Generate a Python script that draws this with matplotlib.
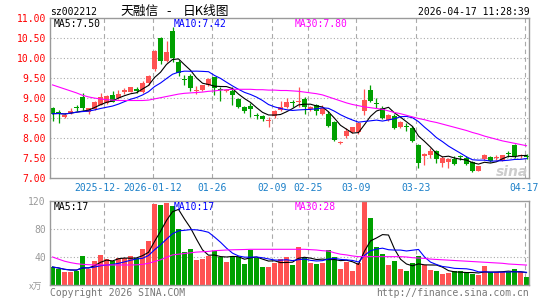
import matplotlib
matplotlib.use("Agg")
import matplotlib.pyplot as plt
import numpy as np
import pandas as pd

# ---------------- data ----------------
opens = [8.75, 8.63, 8.52, 8.62, 8.76, 9.02, 8.65, 8.71, 8.83, 8.87,
         9.08, 8.98, 9.15, 9.15, 9.22, 9.15, 9.37, 9.71, 10.50, 9.93,
         10.67, 9.89, 9.47, 9.54, 9.17, 9.20, 9.33, 9.51, 9.21, 9.17,
         9.17, 8.98, 8.78, 8.79, 8.56, 8.54, 8.42, 8.55, 8.69, 8.78,
         8.89, 8.88, 8.96, 8.71, 8.83, 8.60, 8.60, 8.40, 7.88, 8.04,
         8.15, 8.13, 8.68, 9.20, 8.86, 8.75, 8.44, 8.54, 8.27, 8.28,
         8.25, 7.83, 7.54, 7.58, 7.68, 7.38, 7.40, 7.46, 7.55, 7.50,
         7.40, 7.18, 7.46, 7.52, 7.49, 7.43, 7.61, 7.82, 7.54, 7.55]
highs = [8.77, 8.70, 8.62, 8.75, 8.83, 9.12, 8.75, 8.93, 9.12, 9.06,
         9.18, 9.19, 9.25, 9.28, 9.27, 9.42, 9.56, 10.20, 10.52, 10.43,
         10.78, 9.94, 9.58, 9.60, 9.30, 9.33, 9.48, 9.53, 9.28, 9.22,
         9.28, 8.99, 8.79, 8.87, 8.62, 8.56, 8.52, 8.69, 8.93, 9.00,
         8.95, 9.27, 9.02, 8.80, 8.85, 8.81, 8.66, 8.42, 7.93, 8.23,
         8.28, 8.38, 9.21, 9.33, 8.99, 8.79, 8.60, 8.60, 8.43, 8.37,
         8.29, 7.84, 7.62, 7.73, 7.70, 7.54, 7.49, 7.54, 7.58, 7.54,
         7.42, 7.30, 7.59, 7.54, 7.56, 7.57, 7.68, 7.85, 7.60, 7.60]
lows = [8.42, 8.37, 8.48, 8.60, 8.68, 8.70, 8.60, 8.70, 8.81, 8.85,
        8.88, 8.96, 9.10, 9.13, 9.12, 9.12, 9.33, 9.67, 9.85, 9.88,
        9.88, 9.54, 9.33, 9.17, 9.10, 9.17, 9.30, 9.08, 8.91, 9.15,
        8.83, 8.73, 8.62, 8.52, 8.47, 8.42, 8.27, 8.49, 8.66, 8.75,
        8.78, 8.78, 8.60, 8.68, 8.57, 8.56, 8.28, 7.92, 7.84, 7.98,
        8.12, 8.10, 8.57, 8.90, 8.75, 8.46, 8.42, 8.21, 8.24, 8.18,
        7.90, 7.25, 7.33, 7.50, 7.38, 7.26, 7.25, 7.32, 7.44, 7.32,
        7.15, 7.17, 7.45, 7.40, 7.44, 7.41, 7.52, 7.49, 7.49, 7.46]
closes = [8.60, 8.61, 8.57, 8.67, 8.74, 8.73, 8.73, 8.90, 9.02, 9.04,
          8.90, 9.10, 9.19, 9.26, 9.17, 9.37, 9.54, 10.18, 9.92, 10.15,
          9.98, 9.62, 9.45, 9.23, 9.20, 9.31, 9.46, 9.24, 9.19, 9.19,
          9.06, 8.77, 8.68, 8.71, 8.54, 8.47, 8.44, 8.67, 8.78, 8.88,
          8.87, 8.90, 8.76, 8.78, 8.66, 8.74, 8.30, 7.95, 7.90, 8.17,
          8.26, 8.36, 8.95, 8.93, 8.84, 8.50, 8.58, 8.25, 8.40, 8.26,
          7.92, 7.38, 7.58, 7.68, 7.46, 7.50, 7.47, 7.35, 7.53, 7.35,
          7.18, 7.29, 7.58, 7.43, 7.51, 7.56, 7.59, 7.54, 7.56, 7.53]
volumes = [25.7, 23, 18.6, 18.6, 20.5, 41.4, 23, 34, 43, 36.7,
           35, 39, 39, 41.4, 39, 51, 63, 116, 114, 117,
           113, 80, 47, 51, 36, 37, 42, 48, 40, 33,
           41, 40, 30, 50, 39, 26, 26, 32, 37, 40,
           28, 54, 39, 31, 30, 31, 50, 40, 23, 33,
           20, 31, 135, 96, 54, 44, 28, 35, 23, 20,
           31, 42, 28, 22, 19.5, 16, 17, 19.5, 19.5, 17,
           16, 14, 27, 18, 18, 18, 18, 23, 18, 11.5]
ma30_price = [9.32, 9.27, 9.22, 9.17, 9.12, 9.06, 9.02, 8.99, 8.97, 8.95,
              8.94, 8.93, 8.93, 8.93, 8.93, 8.93, 8.94, 8.97, 9.00, 9.03,
              9.06, 9.09, 9.11, 9.12, 9.13, 9.14, 9.16, 9.17, 9.19, 9.20,
              9.21, 9.21, 9.21, 9.21, 9.20, 9.20, 9.19, 9.19, 9.18, 9.18,
              9.17, 9.16, 9.14, 9.12, 9.10, 9.07, 9.02, 8.97, 8.92, 8.87,
              8.83, 8.80, 8.77, 8.75, 8.73, 8.71, 8.67, 8.63, 8.60, 8.56,
              8.52, 8.48, 8.45, 8.41, 8.38, 8.34, 8.30, 8.26, 8.22, 8.18,
              8.13, 8.09, 8.04, 8.00, 7.96, 7.92, 7.89, 7.86, 7.83, 7.80]
ma30_vol = [40, 37, 34, 32, 30.5, 29.5, 29, 28.6, 28.6, 28.6,
            28.6, 28.6, 28.6, 28.6, 28.8, 29.5, 31, 33.5, 36, 39.5,
            43, 44, 45, 46, 47, 47.5, 48, 49, 49.5, 50,
            50.3, 50.5, 50.7, 51, 51, 51, 51, 51, 51, 51,
            51, 51, 51, 50.5, 50, 49, 48.5, 46, 44, 43,
            41.5, 40.5, 40.5, 40.5, 40.5, 40.5, 40.5, 40.5, 40.5, 40,
            39, 38.5, 38, 37, 36.5, 36, 35.5, 35, 34.5, 34,
            33.5, 33, 32.5, 32, 31.5, 31, 30, 29.5, 29, 28.5]
tick_index = [9, 17, 27, 37, 43, 51, 61, 79]
tick_labels = ["2025-12-", "2026-01-12", "01-26", "02-09", "02-25",
               "03-09", "03-23", "04-17"]
price_ticks = [7.0, 7.5, 8.0, 8.5, 9.0, 9.5, 10.0, 10.5, 11.0]
vol_ticks = [40, 80, 120]
code = "sz002212"
name = "天融信"
title_kind = "日K线图"
timestamp = "2026-04-17 11:28:39"
ma_labels = ["MA5:7.50", "MA10:7.42", "MA30:7.80"]
vol_ma_labels = ["MA5:17", "MA10:17", "MA30:28"]

# ---------------- style ----------------
W, H = 545, 300
RED = "#ff5252"
GREEN = "#00a000"
GRID = "#aaaaaa"
FRAME = "#9a9a9a"
BLUE_TXT = "#1a7fc8"
MONO = "DejaVu Sans Mono"
FS = 7.0

fig = plt.figure(figsize=(W / 100, H / 100), dpi=100)
fig.patch.set_facecolor("white")


def fx(x):
    return x / W


def fy(y):
    return 1 - y / H


n = len(closes)
xs = np.arange(n)
xl = (-2.5 / 6, (n - 1) + 2.5 / 6)
grid_x = [i - 1 / 3 for i in tick_index]

ax = fig.add_axes([fx(50), (H - 177.7) / H, 479 / W, 160 / H])
axv = fig.add_axes([fx(50), 15 / H, 479 / W, 84 / H])

for a in (ax, axv):
    a.set_xlim(*xl)
    for s in a.spines.values():
        s.set_color(FRAME)
        s.set_linewidth(1.0)
    a.tick_params(length=0)
    for gx in grid_x:
        a.axvline(gx, color=GRID, lw=0.8, ls=(0, (4, 3)), zorder=0.6)

# price panel
ax.set_ylim(7.0, 11.0)
for lv in price_ticks[1:-1]:
    ax.axhline(lv, color=GRID, lw=0.8, ls=(0, (1, 2)), zorder=0.6)
ax.set_yticks(price_ticks)
ax.set_yticklabels(["%.2f" % v for v in price_ticks], color="red",
                   fontsize=FS, family=MONO)
ax.tick_params(axis="y", pad=3)
# date labels: the first one (truncated in the reference) drawn left-aligned
ax.set_xticks(grid_x[1:])
ax.set_xticklabels(tick_labels[1:], color=BLUE_TXT, fontsize=FS, family=MONO)
ax.tick_params(axis="x", pad=3.5)
ax.annotate(tick_labels[0], xy=(grid_x[0], 0), xycoords=("data", "axes fraction"),
            xytext=(-21.5, -3.5), textcoords="offset points", ha="left", va="top",
            color=BLUE_TXT, fontsize=FS, family=MONO, annotation_clip=False)

ax.text(79.3, 7.13, "sina", color="#cccccc", fontsize=10, style="italic",
        weight="bold", ha="right", va="center", zorder=0.7)

for i in range(n):
    o, h, l, c = opens[i], highs[i], lows[i], closes[i]
    col = RED if c >= o else GREEN
    ax.vlines(xs[i], l, h, color=col, lw=0.9, zorder=2)
    bot = min(o, c)
    ht = max(abs(c - o), 0.025)
    ax.bar(xs[i], ht, bottom=bot, width=0.75, color=col, lw=0, zorder=2)

cs = pd.Series(closes)
ma5 = cs.rolling(5, min_periods=1).mean()
ma10 = cs.rolling(10, min_periods=1).mean()
ax.plot(xs, ma5, color="black", lw=0.8, zorder=3)
ax.plot(xs, ma10, color="#0000ff", lw=0.8, zorder=3)
ax.plot(xs, ma30_price, color="#ff00ff", lw=0.8, zorder=3)

# volume panel
axv.set_ylim(0, 120)
for lv in vol_ticks[:-1]:
    axv.axhline(lv, color=GRID, lw=0.8, ls=(0, (1, 2)), zorder=0.6)
axv.set_yticks(vol_ticks)
axv.set_yticklabels([str(v) for v in vol_ticks], color="#999999",
                    fontsize=FS, family=MONO)
axv.tick_params(axis="y", pad=3)
axv.set_xticks([])
vcols = [RED if closes[i] >= opens[i] else GREEN for i in range(n)]
axv.bar(xs, volumes, width=0.8, color=vcols, lw=0, zorder=2)
vs = pd.Series(volumes)
axv.plot(xs, vs.rolling(5, min_periods=1).mean(), color="black", lw=0.8, zorder=3)
axv.plot(xs, vs.rolling(10, min_periods=1).mean(), color="#0000ff", lw=0.8, zorder=3)
axv.plot(xs, ma30_vol, color="#ff00ff", lw=0.8, zorder=3)

# texts
fig.text(fx(50), fy(12), code, fontsize=FS, family=MONO, va="center", ha="left")
cjk = ["Noto Sans CJK SC", "DejaVu Sans"]
fig.text(fx(120), fy(11.5), name, fontsize=9.2, family=cjk, va="center", ha="left")
fig.text(fx(166), fy(11.5), "-", fontsize=9.2, family=cjk, va="center", ha="left")
fig.text(fx(183), fy(11.5), title_kind, fontsize=9.2, family=cjk, va="center", ha="left")
fig.text(fx(530), fy(12), timestamp, fontsize=FS, family=MONO, va="center", ha="right")

ma_cols = ["black", "#0000ff", "#ff00ff"]
for lab, col, x in zip(ma_labels, ma_cols, [54, 174, 295]):
    fig.text(fx(x), fy(24), lab, fontsize=FS, family=MONO, color=col,
             va="center", ha="left", zorder=5)
for lab, col, x in zip(vol_ma_labels, ma_cols, [54, 174, 295]):
    fig.text(fx(x), fy(207), lab, fontsize=FS, family=MONO, color=col,
             va="center", ha="left", zorder=5)

fig.text(fx(29), fy(287), "x万", fontsize=6.5, family=cjk, color="#999999",
         va="center", ha="left", style="italic")
fig.text(fx(50), fy(292.5), "Copyright 2026 SINA.COM", fontsize=FS, family=MONO,
         color="#777777", va="center", ha="left")
fig.text(fx(529), fy(292.5), "http://finance.sina.com.cn", fontsize=FS,
         family=MONO, color="#777777", va="center", ha="right")

fig.savefig("out.png", dpi=100, facecolor="white")
